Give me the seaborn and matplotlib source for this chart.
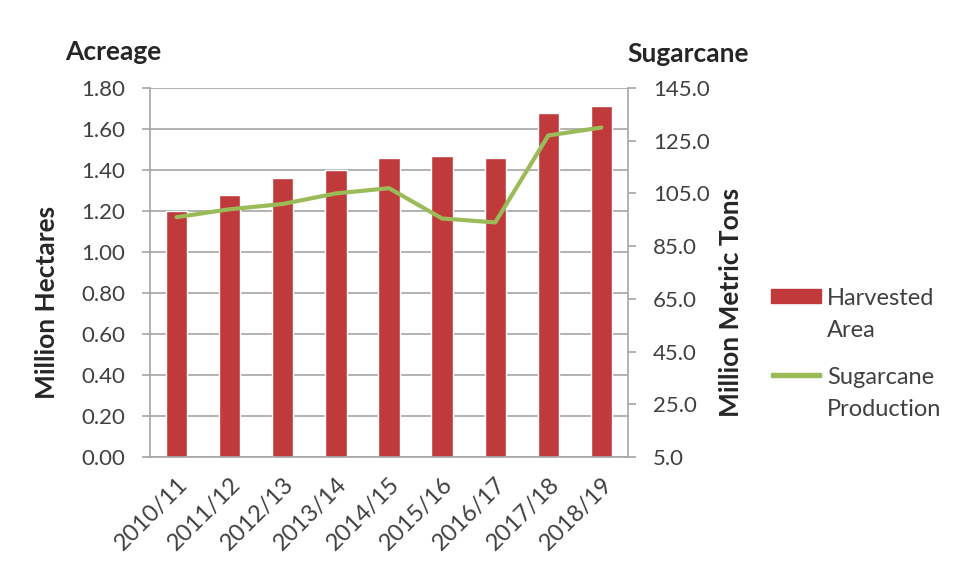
import numpy as np
import pandas as pd
import seaborn as sns
import matplotlib.pyplot as plt
from matplotlib.patches import Patch, Rectangle
from matplotlib.legend_handler import HandlerPatch

# Data
seasons = ["2010/11", "2011/12", "2012/13", "2013/14", "2014/15",
           "2015/16", "2016/17", "2017/18", "2018/19"]
harvested_area = [1.20, 1.28, 1.36, 1.40, 1.46, 1.47, 1.46, 1.68, 1.71]  # million ha
production = [96.0, 99.0, 101.0, 105.0, 107.0, 95.5, 94.0, 127.0, 130.0]  # million metric tons

bar_color = "#C0393B"
line_color = "#9BBB59"
grid_color = "#A6A6A6"
text_color = "#404040"

sns.set_style("white")
plt.rcParams['font.family'] = ['Lato', 'DejaVu Sans']

df = pd.DataFrame({"season": seasons, "area": harvested_area,
                   "prod": production, "pos": np.arange(len(seasons))})

fig = plt.figure(figsize=(9.58, 5.62), dpi=100)
ax = fig.add_axes([0.1566, 0.1868, 0.4989, 0.6566])

sns.barplot(data=df, x="season", y="area", color=bar_color, width=0.4,
            saturation=1, ax=ax, zorder=2)
ax.set_ylim(0, 1.8)
ax.set_yticks(np.arange(0, 1.81, 0.2))
ax.set_yticklabels(["{:.2f}".format(v) for v in np.arange(0, 1.81, 0.2)])
ax.set_xlim(-0.5, len(seasons) - 0.5)
ax.yaxis.grid(True, color=grid_color, linewidth=1.2, zorder=0)
ax.set_axisbelow(True)
ax.set_xlabel("")
ax.set_ylabel("Million Hectares", fontsize=19, fontweight="bold")
ax.yaxis.set_label_coords(-0.19, 0.42)

# x ticks: labels at categories, tick marks between them
ax.set_xticks(np.arange(len(seasons)))
ax.set_xticklabels(seasons, rotation=45, ha="right", rotation_mode="anchor")
ax.set_xticks(np.arange(-0.5, len(seasons)), minor=True)
ax.tick_params(axis="x", which="major", length=0, labelsize=17,
               labelcolor=text_color, pad=12)
ax.tick_params(axis="x", which="minor", length=6, color=grid_color, width=1.2)
ax.tick_params(axis="y", length=6, color=grid_color, width=1.2,
               labelsize=16, labelcolor=text_color, pad=12)

for side in ["top", "right"]:
    ax.spines[side].set_visible(False)
for side in ["left", "bottom"]:
    ax.spines[side].set_color(grid_color)
    ax.spines[side].set_linewidth(1.2)

ax2 = ax.twinx()
sns.lineplot(data=df, x="pos", y="prod", color=line_color, linewidth=3,
             ax=ax2, zorder=3)
ax2.set_ylim(5, 145)
ax2.set_yticks(np.arange(5, 146, 20))
ax2.set_yticklabels(["{:.1f}".format(v) for v in np.arange(5, 146, 20)])
ax2.set_xlim(-0.5, len(seasons) - 0.5)
ax2.set_ylabel("Million Metric Tons", fontsize=19, fontweight="bold")
ax2.yaxis.set_label_coords(1.19, 0.42)
ax2.set_xlabel("")
ax2.tick_params(axis="y", length=6, color=grid_color, width=1.2,
                labelsize=16, labelcolor=text_color, pad=12)
for side in ["top", "left", "bottom"]:
    ax2.spines[side].set_visible(False)
ax2.spines["right"].set_color(grid_color)
ax2.spines["right"].set_linewidth(1.2)

fig.text(0.068, 0.893, "Acreage", fontsize=19, fontweight="bold", ha="left")
fig.text(0.655, 0.889, "Sugarcane", fontsize=19, fontweight="bold", ha="left")


# legend keys sit next to the first line of each two-line label
def top_key(height_frac):
    def make(legend, orig_handle, xdescent, ydescent, width, height, fontsize):
        h = fontsize * height_frac
        y0 = height / 2 - h / 2 + fontsize * 0.8
        return Rectangle((-xdescent, y0 - ydescent), width, h)
    return make


handles = [Patch(color=bar_color), Patch(color=line_color)]
leg = fig.legend(handles, ["Harvested\nArea", "Sugarcane\nProduction"],
                 loc="center left", bbox_to_anchor=(0.783, 0.37), frameon=False,
                 fontsize=17, labelcolor=text_color, handlelength=2.1,
                 handletextpad=0.25, labelspacing=1.1,
                 handler_map={handles[0]: HandlerPatch(patch_func=top_key(0.6)),
                              handles[1]: HandlerPatch(patch_func=top_key(0.14))})
for t in leg.get_texts():
    t.set_linespacing(1.65)

fig.savefig("out.png", dpi=100)
